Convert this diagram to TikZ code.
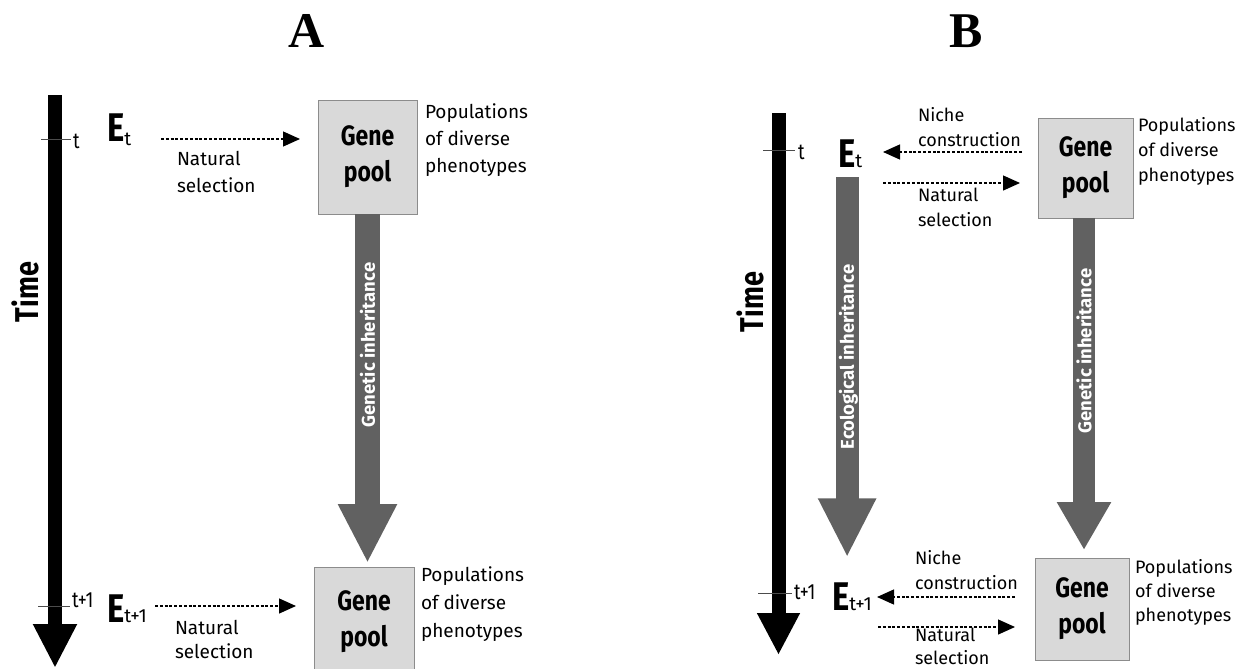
\documentclass[tikz,border=0pt]{standalone}
\usepackage{fontspec}
\setmainfont{Fira Sans}
\newfontfamily\condfont[FakeStretch=0.82]{Fira Sans}
\newfontfamily\titlefont{Liberation Serif}
\usetikzlibrary{arrows.meta}
\begin{document}
\begin{tikzpicture}[x=1pt,y=-1pt,
  every node/.style={inner sep=0pt, outer sep=0pt},
  paneltitle/.style={font=\titlefont\bfseries\fontsize{50}{50}\selectfont},
  timelbl/.style={font=\condfont\bfseries\fontsize{33}{33}\selectfont, rotate=90},
  timeaxis/.style={line width=14pt, draw=black, -{Triangle[width=41pt,length=44pt]}},
  tickmark/.style={draw=black!70, line width=0.8pt},
  ticklbl/.style={font=\condfont\fontsize{22}{22}\selectfont, anchor=west},
  Ebig/.style={font=\condfont\bfseries\fontsize{40}{40}\selectfont, anchor=base west},
  Esub/.style={font=\fontsize{19}{19}\selectfont, anchor=base west},
  genebox/.style={draw=black!45, line width=0.8pt, fill=black!15, align=center,
     font=\condfont\bfseries\fontsize{28}{36}\selectfont},
  smalltxt/.style={font=\fontsize{19}{27}\selectfont, align=left, anchor=west},
  smalltxtB/.style={font=\fontsize{18}{25}\selectfont, align=left, anchor=west},
  dasharrow/.style={line width=1.3pt, dash pattern=on 3pt off 1.8pt, -{Triangle[length=17pt,width=15pt]}},
  fatarrow/.style={draw=black!62, line width=25pt, -{Triangle[width=55pt,length=59pt]}},
  inhtxt/.style={font=\bfseries\fontsize{18.5}{18.5}\selectfont, text=white, rotate=90},
]
\useasboundingbox (0,0) rectangle (1242,669);
\fill[white] (0,0) rectangle (1242,669);

% ---------------- Panel A ----------------
\node[paneltitle] (titleA) at (307,31) {A};
\coordinate (timeAtop) at (55,95);
\coordinate (timeAend) at (55,668);
\draw[timeaxis] (timeAtop) -- (timeAend);
\draw[tickmark] (41,139) -- (71,139);
\draw[tickmark] (38,606) -- (70,606);
\node[ticklbl] (tA1) at (73,141) {t};
\node[ticklbl] (tA2) at (72,600) {t+1};
\node[timelbl] (timeA) at (25,292) {Time};

\node[Ebig] (EA1) at (107,141) {E};
\node[Esub, yshift=-4pt] (EA1s) at (EA1.base east) {t};
\node[Ebig] (EA2) at (107,622) {E};
\node[Esub] (EA2s) at (EA2.base east) {t+1};

\node[genebox, minimum width=99pt, minimum height=114pt] (gpA1) at (367.5,157) {Gene\\pool};
\node[genebox, minimum width=100pt, minimum height=110pt] (gpA2) at (364,622) {Gene\\pool};

\node[smalltxt] (popA1) at (425,140) {Populations\\of diverse\\phenotypes};
\node[smalltxt, font=\fontsize{19}{28}\selectfont] (popA2) at (421,604) {Populations\\of diverse\\phenotypes};

\coordinate (nsA1a) at (161,139);
\coordinate (nsA1b) at (300,139);
\draw[dasharrow] (nsA1a) -- (nsA1b);
\node[smalltxt] (nsA1) at (177,172) {Natural\\selection};
\coordinate (nsA2a) at (155,606);
\coordinate (nsA2b) at (296,606);
\draw[dasharrow] (nsA2a) -- (nsA2b);
\node[smalltxt, font=\fontsize{19}{24}\selectfont] (nsA2) at (175,639) {Natural\\selection};

\draw[fatarrow, shorten >=4pt] (gpA1.south) -- (gpA1.south |- gpA2.north);
\node[inhtxt] (giA) at (367.5,345) {Genetic inheritance};

% ---------------- Panel B ----------------
\node[paneltitle] (titleB) at (966,31) {B};
\coordinate (timeBtop) at (778.5,113);
\coordinate (timeBend) at (778.5,655);
\draw[timeaxis, -{Triangle[width=40pt,length=42pt]}] (timeBtop) -- (timeBend);
\draw[tickmark] (763,150) -- (795,150);
\draw[tickmark] (758,593) -- (792,593);
\node[ticklbl] (tB1) at (798,152) {t};
\node[ticklbl] (tB2) at (794,592) {t+1};
\node[timelbl] (timeB) at (750,302) {Time};

\node[Ebig] (EB1) at (838,167) {E};
\node[Esub] (EB1s) at (EB1.base east) {t};
\node[Ebig] (EB2) at (832,610) {E};
\node[Esub] (EB2s) at (EB2.base east) {t+1};

\node[genebox, minimum width=95pt, minimum height=100pt] (gpB1) at (1085.5,168) {Gene\\pool};
\node[genebox, minimum width=94pt, minimum height=102pt] (gpB2) at (1082,609) {Gene\\pool};

\node[smalltxtB] (popB1) at (1138,151) {Populations\\of diverse\\phenotypes};
\node[smalltxtB, font=\fontsize{18}{24}\selectfont] (popB2) at (1135,592) {Populations\\of diverse\\phenotypes};

\coordinate (ncB1a) at (1022,152);
\coordinate (ncB1b) at (883,152);
\draw[dasharrow] (ncB1a) -- (ncB1b);
\node[smalltxtB] (ncB1) at (918,127) {Niche\\construction};
\coordinate (nsB1a) at (883,183);
\coordinate (nsB1b) at (1020,183);
\draw[dasharrow] (nsB1a) -- (nsB1b);
\node[smalltxtB] (nsB1) at (918,207) {Natural\\selection};

\coordinate (ncB2a) at (1015,597);
\coordinate (ncB2b) at (877,597);
\draw[dasharrow] (ncB2a) -- (ncB2b);
\node[smalltxtB] (ncB2) at (915,570) {Niche\\construction};
\coordinate (nsB2a) at (878,627);
\coordinate (nsB2b) at (1015,627);
\draw[dasharrow] (nsB2a) -- (nsB2b);
\node[smalltxtB, font=\fontsize{18}{23}\selectfont] (nsB2) at (915,646) {Natural\\selection};

\draw[fatarrow, line width=23pt, -{Triangle[width=54pt,length=59pt]}, shorten <=10pt, shorten >=25pt]
  ([xshift=0.5pt]EB1.south) -- ([xshift=0.5pt]EB1.south |- EB2.north);
\node[inhtxt] (eiB) at (848.5,357) {Ecological inheritance};

\draw[fatarrow, line width=22pt, -{Triangle[width=51pt,length=48pt]}, shorten >=8pt]
  ([xshift=-1.5pt]gpB1.south) -- ([xshift=-1.5pt]gpB1.south |- gpB2.north);
\node[inhtxt] (giB) at (1084,351) {Genetic inheritance};
\end{tikzpicture}
\end{document}
